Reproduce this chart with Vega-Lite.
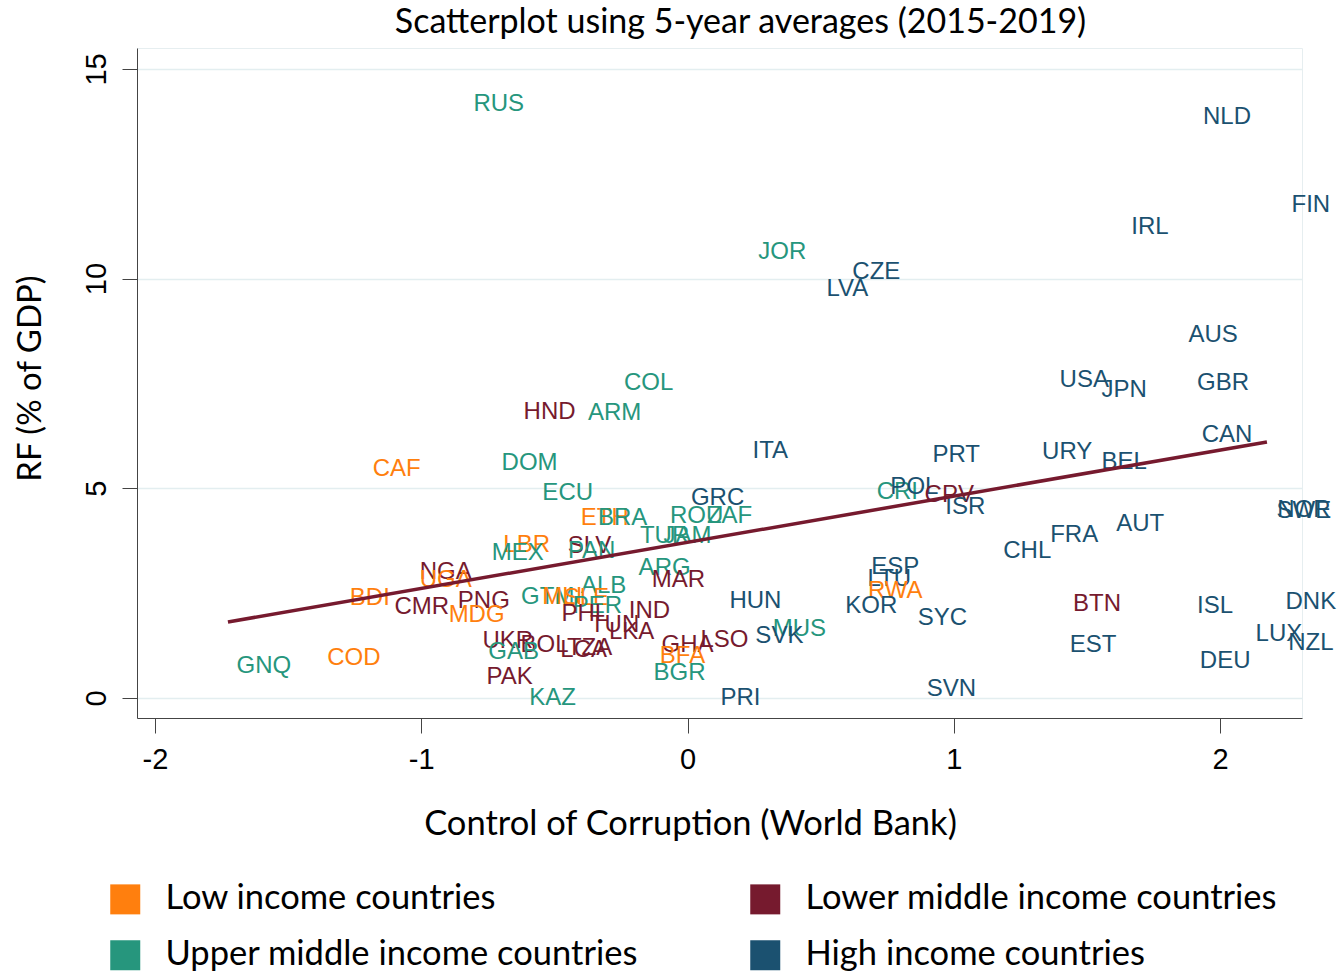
{
  "$schema": "https://vega.github.io/schema/vega-lite/v6.json",
  "width": 1165,
  "height": 670,
  "autosize": {"type": "none"},
  "padding": {"left": 137, "top": 48, "right": 38, "bottom": 253},
  "background": "white",
  "config": {
    "view": {"stroke": "#e6eef0", "strokeWidth": 1},
    "font": "Lato"
  },
  "title": {
    "text": "Scatterplot using 5-year averages (2015-2019)",
    "font": "Lato",
    "fontSize": 34,
    "fontWeight": "normal",
    "color": "#000000",
    "anchor": "middle",
    "dx": 21,
    "offset": 8
  },
  "datasets": {
    "countries": [
      {"code": "RUS", "cc": -0.709, "rf": 14.17, "group": "Upper middle income countries"},
      {"code": "NLD", "cc": 2.026, "rf": 13.86, "group": "High income countries"},
      {"code": "FIN", "cc": 2.341, "rf": 11.76, "group": "High income countries"},
      {"code": "IRL", "cc": 1.737, "rf": 11.23, "group": "High income countries"},
      {"code": "JOR", "cc": 0.356, "rf": 10.64, "group": "Upper middle income countries"},
      {"code": "CZE", "cc": 0.709, "rf": 10.16, "group": "High income countries"},
      {"code": "LVA", "cc": 0.6, "rf": 9.75, "group": "High income countries"},
      {"code": "AUS", "cc": 1.974, "rf": 8.66, "group": "High income countries"},
      {"code": "COL", "cc": -0.146, "rf": 7.51, "group": "Upper middle income countries"},
      {"code": "GBR", "cc": 2.011, "rf": 7.51, "group": "High income countries"},
      {"code": "USA", "cc": 1.49, "rf": 7.58, "group": "High income countries"},
      {"code": "JPN", "cc": 1.64, "rf": 7.35, "group": "High income countries"},
      {"code": "HND", "cc": -0.518, "rf": 6.82, "group": "Lower middle income countries"},
      {"code": "ARM", "cc": -0.274, "rf": 6.8, "group": "Upper middle income countries"},
      {"code": "CAN", "cc": 2.026, "rf": 6.27, "group": "High income countries"},
      {"code": "ITA", "cc": 0.311, "rf": 5.89, "group": "High income countries"},
      {"code": "PRT", "cc": 1.009, "rf": 5.8, "group": "High income countries"},
      {"code": "URY", "cc": 1.426, "rf": 5.87, "group": "High income countries"},
      {"code": "BEL", "cc": 1.64, "rf": 5.63, "group": "High income countries"},
      {"code": "CAF", "cc": -1.092, "rf": 5.46, "group": "Low income countries"},
      {"code": "DOM", "cc": -0.593, "rf": 5.6, "group": "Upper middle income countries"},
      {"code": "ECU", "cc": -0.45, "rf": 4.89, "group": "Upper middle income countries"},
      {"code": "GRC", "cc": 0.113, "rf": 4.77, "group": "High income countries"},
      {"code": "CRI", "cc": 0.788, "rf": 4.91, "group": "Upper middle income countries"},
      {"code": "POL", "cc": 0.852, "rf": 5.03, "group": "High income countries"},
      {"code": "CPV", "cc": 0.983, "rf": 4.84, "group": "Lower middle income countries"},
      {"code": "ISR", "cc": 1.043, "rf": 4.56, "group": "High income countries"},
      {"code": "NOR", "cc": 2.315, "rf": 4.48, "group": "High income countries"},
      {"code": "SWE", "cc": 2.315, "rf": 4.46, "group": "High income countries"},
      {"code": "ETH", "cc": -0.311, "rf": 4.29, "group": "Low income countries"},
      {"code": "BRA", "cc": -0.244, "rf": 4.29, "group": "Upper middle income countries"},
      {"code": "ROU", "cc": 0.034, "rf": 4.34, "group": "Upper middle income countries"},
      {"code": "ZAF", "cc": 0.158, "rf": 4.34, "group": "Upper middle income countries"},
      {"code": "AUT", "cc": 1.7, "rf": 4.15, "group": "High income countries"},
      {"code": "FRA", "cc": 1.452, "rf": 3.89, "group": "High income countries"},
      {"code": "TUR", "cc": -0.086, "rf": 3.86, "group": "Upper middle income countries"},
      {"code": "JAM", "cc": 0.0, "rf": 3.86, "group": "Upper middle income countries"},
      {"code": "CHL", "cc": 1.276, "rf": 3.51, "group": "High income countries"},
      {"code": "LBR", "cc": -0.604, "rf": 3.65, "group": "Low income countries"},
      {"code": "MEX", "cc": -0.638, "rf": 3.46, "group": "Upper middle income countries"},
      {"code": "SLV", "cc": -0.368, "rf": 3.63, "group": "Lower middle income countries"},
      {"code": "PAN", "cc": -0.36, "rf": 3.51, "group": "Upper middle income countries"},
      {"code": "ESP", "cc": 0.78, "rf": 3.12, "group": "High income countries"},
      {"code": "ARG", "cc": -0.086, "rf": 3.1, "group": "Upper middle income countries"},
      {"code": "NGA", "cc": -0.908, "rf": 3.0, "group": "Lower middle income countries"},
      {"code": "LTU", "cc": 0.758, "rf": 2.84, "group": "High income countries"},
      {"code": "UGA", "cc": -0.908, "rf": 2.81, "group": "Low income countries"},
      {"code": "MAR", "cc": -0.034, "rf": 2.81, "group": "Lower middle income countries"},
      {"code": "ALB", "cc": -0.315, "rf": 2.67, "group": "Upper middle income countries"},
      {"code": "RWA", "cc": 0.78, "rf": 2.55, "group": "Low income countries"},
      {"code": "BDI", "cc": -1.193, "rf": 2.38, "group": "Low income countries"},
      {"code": "GTM", "cc": -0.525, "rf": 2.41, "group": "Upper middle income countries"},
      {"code": "MLI", "cc": -0.47, "rf": 2.41, "group": "Low income countries"},
      {"code": "SLE", "cc": -0.38, "rf": 2.38, "group": "Low income countries"},
      {"code": "PNG", "cc": -0.765, "rf": 2.31, "group": "Lower middle income countries"},
      {"code": "HUN", "cc": 0.255, "rf": 2.31, "group": "High income countries"},
      {"code": "KOR", "cc": 0.69, "rf": 2.19, "group": "High income countries"},
      {"code": "DNK", "cc": 2.341, "rf": 2.29, "group": "High income countries"},
      {"code": "ISL", "cc": 1.981, "rf": 2.19, "group": "High income countries"},
      {"code": "BTN", "cc": 1.538, "rf": 2.24, "group": "Lower middle income countries"},
      {"code": "CMR", "cc": -0.998, "rf": 2.17, "group": "Lower middle income countries"},
      {"code": "PER", "cc": -0.338, "rf": 2.19, "group": "Upper middle income countries"},
      {"code": "IND", "cc": -0.143, "rf": 2.07, "group": "Lower middle income countries"},
      {"code": "PHL", "cc": -0.386, "rf": 2.0, "group": "Lower middle income countries"},
      {"code": "MDG", "cc": -0.792, "rf": 1.98, "group": "Low income countries"},
      {"code": "SYC", "cc": 0.957, "rf": 1.91, "group": "High income countries"},
      {"code": "TUN", "cc": -0.274, "rf": 1.74, "group": "Lower middle income countries"},
      {"code": "LKA", "cc": -0.21, "rf": 1.57, "group": "Lower middle income countries"},
      {"code": "LUX", "cc": 2.221, "rf": 1.53, "group": "High income countries"},
      {"code": "NZL", "cc": 2.341, "rf": 1.31, "group": "High income countries"},
      {"code": "MUS", "cc": 0.42, "rf": 1.65, "group": "Upper middle income countries"},
      {"code": "SVK", "cc": 0.345, "rf": 1.48, "group": "High income countries"},
      {"code": "UKR", "cc": -0.675, "rf": 1.36, "group": "Lower middle income countries"},
      {"code": "BOL", "cc": -0.537, "rf": 1.26, "group": "Lower middle income countries"},
      {"code": "GHA", "cc": 0.0, "rf": 1.26, "group": "Lower middle income countries"},
      {"code": "LSO", "cc": 0.139, "rf": 1.38, "group": "Lower middle income countries"},
      {"code": "EST", "cc": 1.523, "rf": 1.26, "group": "High income countries"},
      {"code": "TZA", "cc": -0.368, "rf": 1.19, "group": "Lower middle income countries"},
      {"code": "LCA", "cc": -0.39, "rf": 1.14, "group": "Lower middle income countries"},
      {"code": "GAB", "cc": -0.653, "rf": 1.1, "group": "Upper middle income countries"},
      {"code": "BFA", "cc": -0.019, "rf": 1.0, "group": "Low income countries"},
      {"code": "DEU", "cc": 2.019, "rf": 0.88, "group": "High income countries"},
      {"code": "COD", "cc": -1.253, "rf": 0.95, "group": "Low income countries"},
      {"code": "GNQ", "cc": -1.591, "rf": 0.76, "group": "Upper middle income countries"},
      {"code": "BGR", "cc": -0.03, "rf": 0.6, "group": "Upper middle income countries"},
      {"code": "PAK", "cc": -0.668, "rf": 0.5, "group": "Lower middle income countries"},
      {"code": "SVN", "cc": 0.991, "rf": 0.21, "group": "High income countries"},
      {"code": "KAZ", "cc": -0.507, "rf": 0.0, "group": "Upper middle income countries"},
      {"code": "PRI", "cc": 0.199, "rf": 0.0, "group": "High income countries"}
    ],
    "fit": [
      {"cc": -1.726, "rf": 1.81},
      {"cc": 2.176, "rf": 6.105}
    ]
  },
  "encoding": {
    "x": {
      "field": "cc",
      "type": "quantitative",
      "scale": {"domain": [-2.0675, 2.3077], "nice": false, "zero": false},
      "axis": {
        "title": "Control of Corruption (World Bank)",
        "values": [-2, -1, 0, 1, 2],
        "grid": false,
        "labelExpr": "datum.value < 0 ? '-' + abs(datum.value) : datum.label",
        "labelFont": "Liberation Sans",
        "labelFontSize": 29,
        "labelColor": "#000000",
        "labelPadding": 12,
        "tickSize": 15,
        "tickColor": "#444444",
        "domainColor": "#444444",
        "titleFont": "Lato",
        "titleFontSize": 34.5,
        "titleFontWeight": "normal",
        "titleColor": "#000000",
        "titlePadding": 33,
        "titleX": 553
      }
    },
    "y": {
      "field": "rf",
      "type": "quantitative",
      "scale": {"domain": [-0.48, 15.5], "nice": false, "zero": false},
      "axis": {
        "title": "RF (% of GDP)",
        "values": [0, 5, 10, 15],
        "grid": true,
        "gridColor": "#e3eef0",
        "gridWidth": 1.5,
        "labelAngle": -90,
        "labelAlign": "center",
        "labelBaseline": "bottom",
        "labelFont": "Liberation Sans",
        "labelFontSize": 29,
        "labelColor": "#000000",
        "labelPadding": 11,
        "tickSize": 15,
        "tickColor": "#444444",
        "domainColor": "#444444",
        "titleFont": "Lato",
        "titleFontSize": 33,
        "titleFontWeight": "normal",
        "titleColor": "#000000",
        "titlePadding": 35,
        "titleY": 330
      }
    }
  },
  "layer": [
    {
      "data": {"name": "countries"},
      "mark": {"type": "text", "font": "Liberation Sans", "fontSize": 24, "align": "center", "baseline": "middle"},
      "encoding": {
        "text": {"field": "code", "type": "nominal"},
        "color": {
          "field": "group",
          "type": "nominal",
          "scale": {
            "domain": ["Low income countries", "Lower middle income countries", "Upper middle income countries", "High income countries"],
            "range": ["#ff7f0e", "#761a2e", "#26967d", "#1b5170"]
          },
          "legend": {
            "title": null,
            "orient": "none",
            "legendX": -29,
            "legendY": 834,
            "direction": "horizontal",
            "columns": 2,
            "symbolType": "square",
            "symbolSize": 900,
            "symbolStrokeWidth": 0,
            "labelFont": "Lato",
            "labelFontSize": 34.5,
            "labelColor": "#000000",
            "labelOffset": 23,
            "labelLimit": 700,
            "rowPadding": 21,
            "columnPadding": 109
          }
        }
      }
    },
    {
      "data": {"name": "fit"},
      "mark": {"type": "line", "color": "#761a2e", "strokeWidth": 3.5},
      "encoding": {}
    }
  ]
}
